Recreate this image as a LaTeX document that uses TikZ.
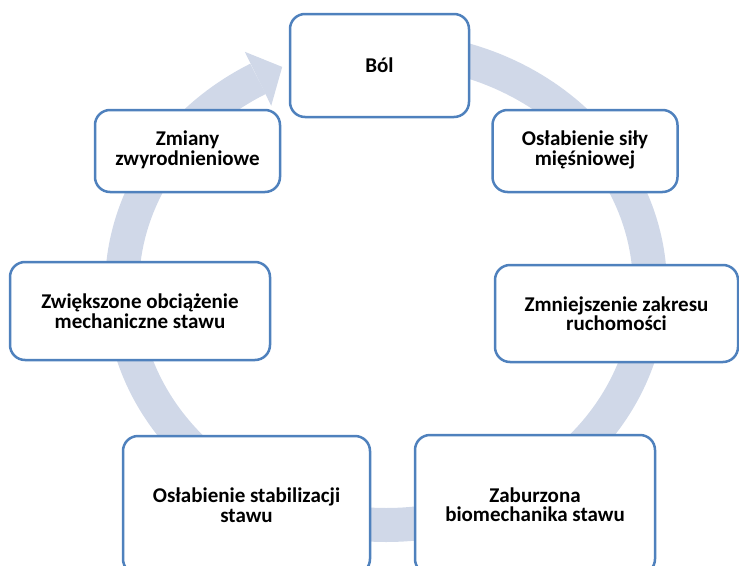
\documentclass[tikz,border=0pt]{standalone}
\usepackage{fontspec}
\setmainfont{Carlito}
\definecolor{boxblue}{RGB}{79,129,189}
\definecolor{ringcol}{RGB}{208,216,232}
\begin{document}
\begin{tikzpicture}[x=1pt,y=-1pt,
  box/.style={draw=boxblue, line width=2.5pt, rounded corners=15pt, fill=white,
    align=center, inner sep=0pt, text=black,
    font=\bfseries\fontsize{21}{19.5}\selectfont},
  ring/.style={draw=ringcol, line width=34pt}]
\useasboundingbox (0,0) rectangle (739,565);
% circular arrow
\draw[ring] plot[domain=-241:75, samples=160, smooth]
  ({386+264*cos(\x)},{287-238*sin(\x)});
\coordinate (hb1) at (244.8,51.8);
\coordinate (htip) at (282.2,66.9);
\coordinate (hb2) at (271.2,105.8);
\fill[ringcol] (hb1) -- (htip) -- (hb2) -- cycle;
% boxes
\node[box, minimum width=179pt, minimum height=103pt] (bol) at (379.5,65.5) {\raisebox{-3pt}{Ból}};
\node[box, minimum width=185pt, minimum height=82pt] (osl) at (585,151) {\raisebox{-3pt}{\begin{tabular}{@{}c@{}}Osłabienie siły\\mięśniowej\end{tabular}}};
\node[box, minimum width=243pt, minimum height=97pt] (zmn) at (616.5,313.5) {Zmniejszenie zakresu\\ruchomości};
\node[box, minimum width=240pt, minimum height=139pt] (zab) at (535,504.5) {Zaburzona\\biomechanika stawu};
\node[box, minimum width=247pt, minimum height=138pt] (stab) at (246.5,505) {Osłabienie stabilizacji\\stawu};
\node[box, minimum width=260pt, minimum height=98pt] (zwi) at (140,311) {Zwiększone obciążenie\\mechaniczne stawu};
\node[box, minimum width=185pt, minimum height=82pt] (zmi) at (187.5,151) {\raisebox{-3pt}{\begin{tabular}{@{}c@{}}Zmiany\\zwyrodnieniowe\end{tabular}}};
\end{tikzpicture}
\end{document}
